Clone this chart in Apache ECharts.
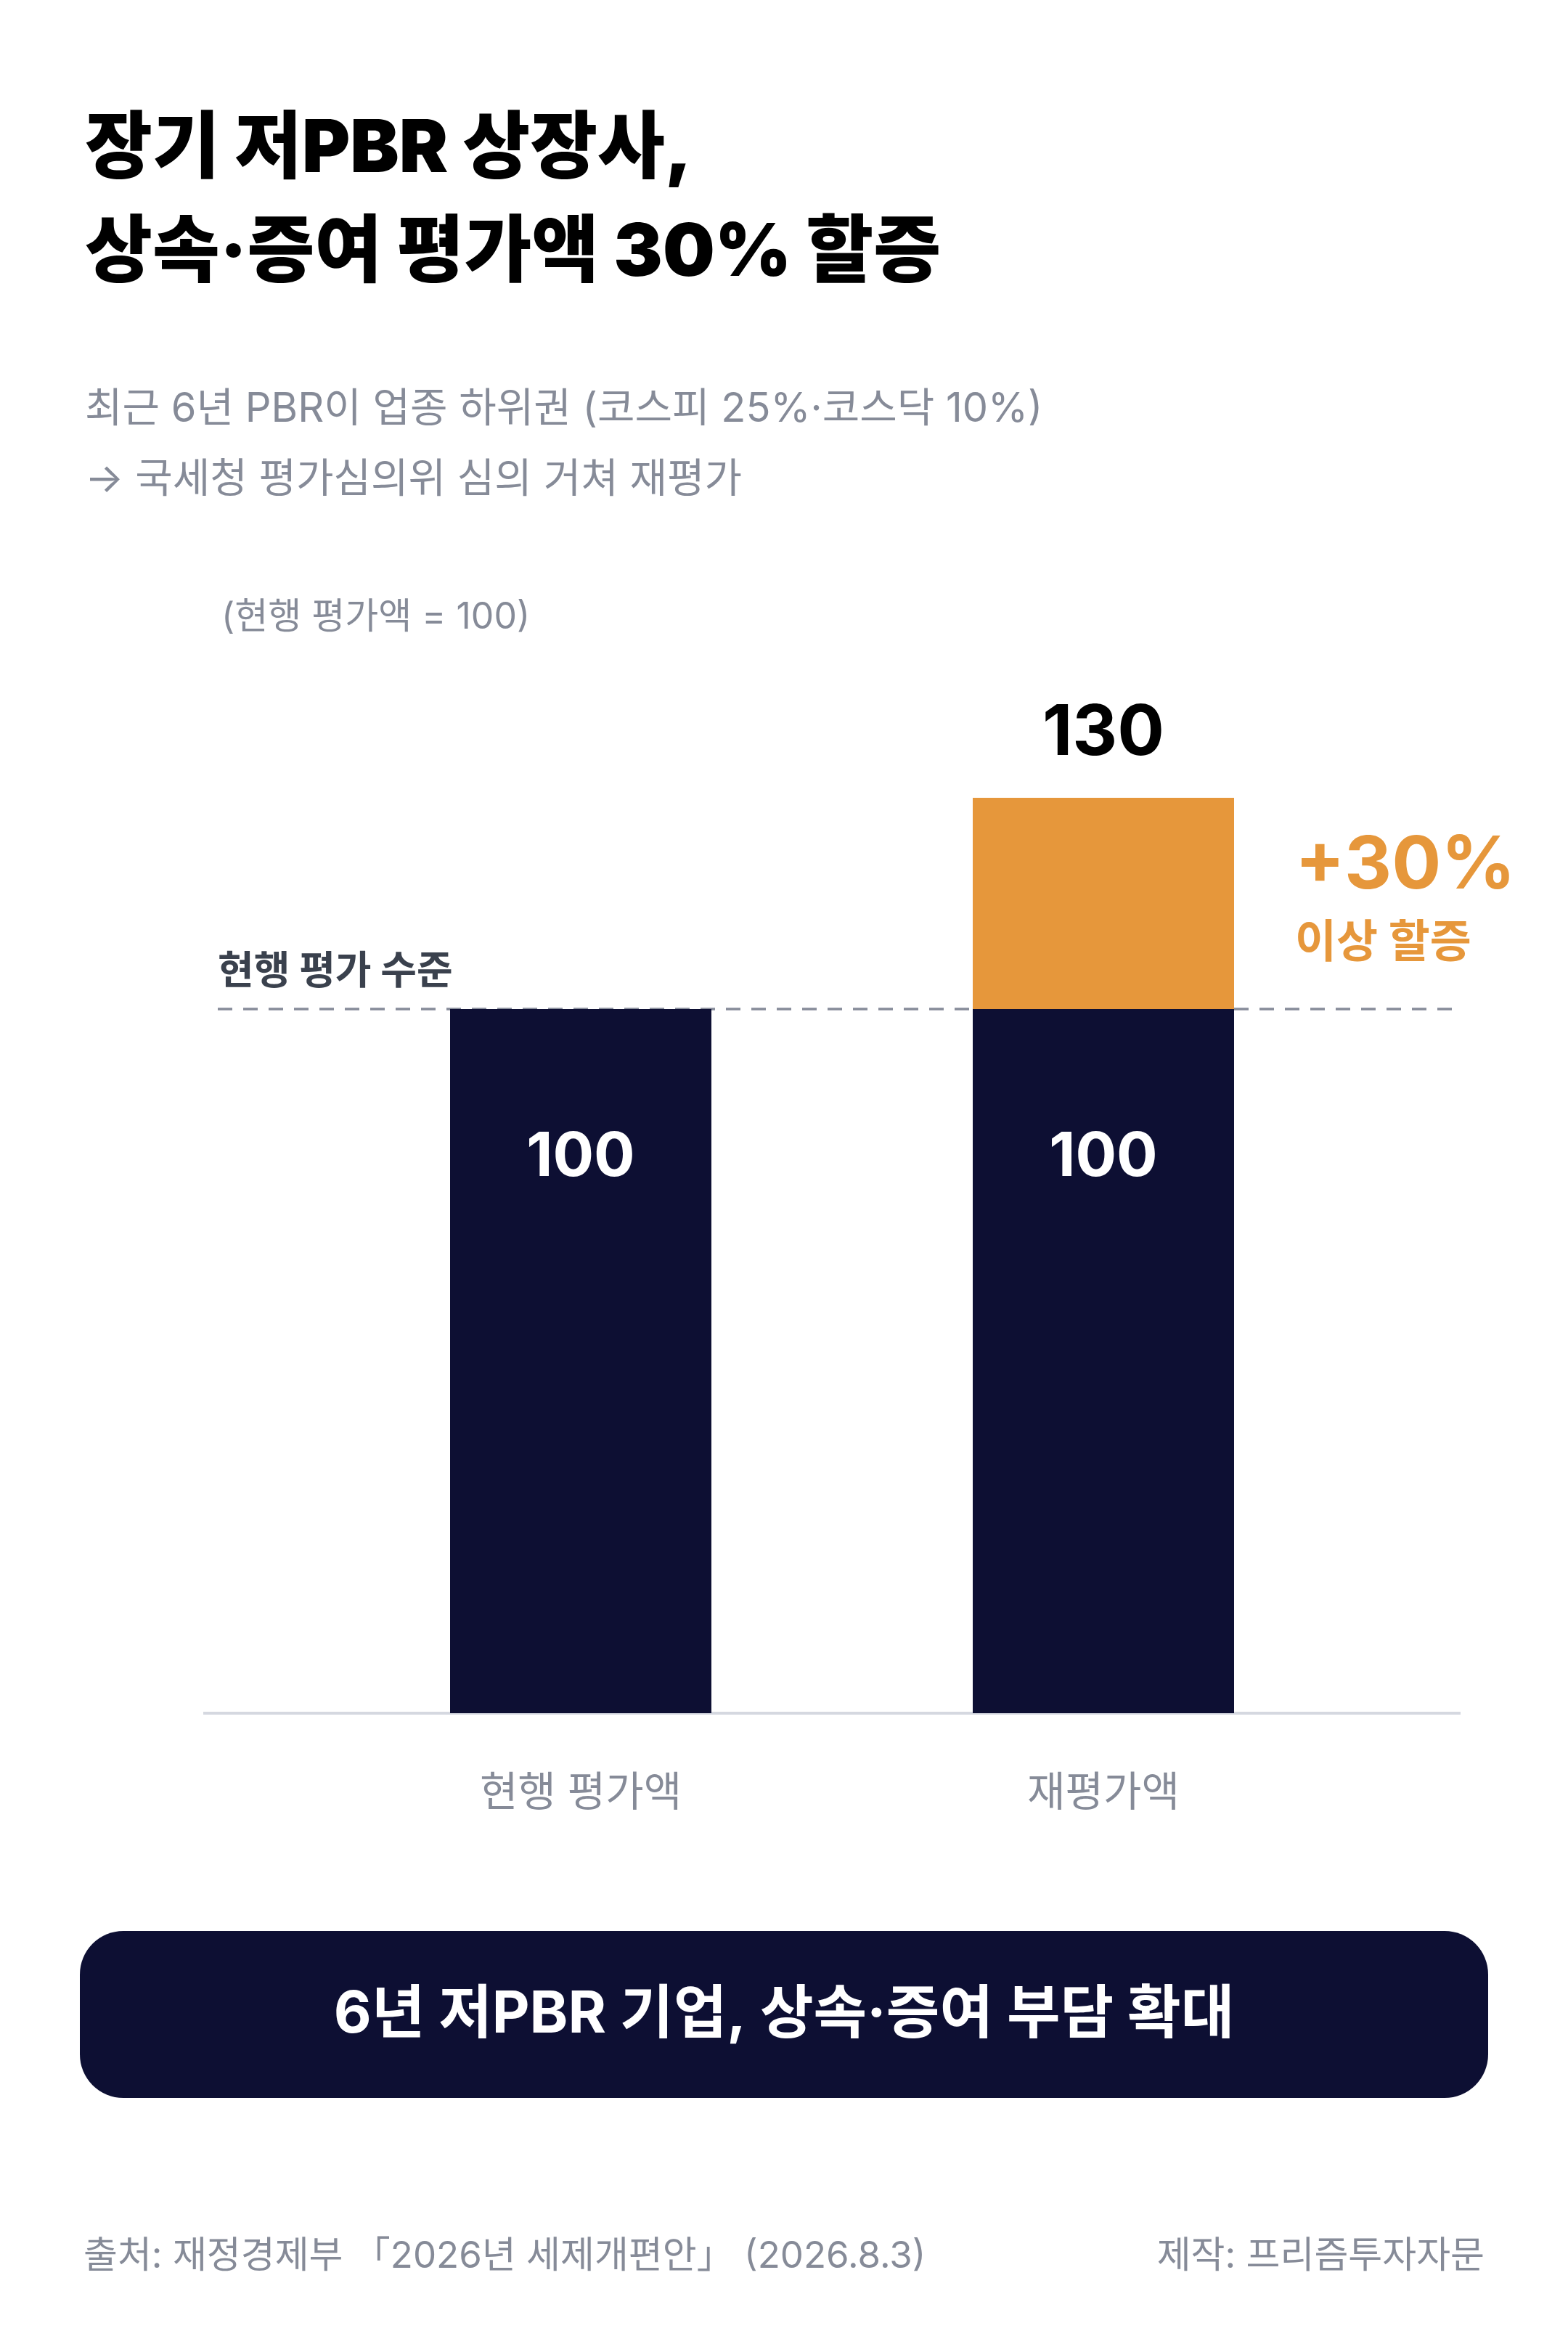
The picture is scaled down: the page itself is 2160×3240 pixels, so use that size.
<!DOCTYPE html>
<html lang="ko">
<head>
    <meta charset="UTF-8">
    <title>장기 저PBR 상장사 평가액 할증</title>
    <style>
        * {
            margin: 0;
            padding: 0;
        }

        body {
            background-color: #fff;
        }

        #chart {
            width: 2160px;
            height: 3240px;
        }
    </style>
</head>
<body>
<div id="chart"></div>
<script src="https://cdn.jsdelivr.net/npm/echarts@6/dist/echarts.min.js"></script>
<script>
    // data
    var categories = ['현행 평가액', '재평가액'];
    var baseValues = [100, 100];
    var surchargeValues = [null, 30];
    var totalValues = [null, 130];
    var surchargeTexts = ['', '+30%'];
    var surchargeNotes = ['', '이상 할증'];
    var referenceLevel = 100;

    var FONT = 'Inter, "Noto Sans CJK KR", sans-serif';
    var NAVY = '#0d0f33';
    var ORANGE = '#e6973b';
    var GRAY = '#868b98';

    var chart = echarts.init(document.getElementById('chart'));
    chart.setOption({
        backgroundColor: '#fff',
        animation: false,
        title: [
            {
                text: '장기 저PBR 상장사,\n상속·증여 평가액 30% 할증',
                left: 112,
                top: 130,
                textStyle: {fontFamily: FONT, fontSize: 101, fontWeight: 900, color: '#000', lineHeight: 143}
            },
            {
                text: '최근 6년 PBR이 업종 하위권 (코스피 25%·코스닥 10%)\n→ 국세청 평가심의위 심의 거쳐 재평가',
                left: 112,
                top: 511,
                textStyle: {fontFamily: FONT, fontSize: 56, fontWeight: 'normal', color: GRAY, lineHeight: 97}
            },
            {
                text: '(현행 평가액 = 100)',
                left: 300,
                top: 821,
                textStyle: {fontFamily: FONT, fontSize: 50, fontWeight: 'normal', color: GRAY}
            },
            {
                text: '출처: 재정경제부 「2026년 세제개편안」 (2026.8.3)',
                left: 110,
                top: 3078,
                textStyle: {fontFamily: FONT, fontSize: 51, fontWeight: 'normal', color: GRAY}
            },
            {
                text: '제작: 프리즘투자자문',
                right: 110,
                top: 3078,
                textStyle: {fontFamily: FONT, fontSize: 51, fontWeight: 'normal', color: GRAY}
            }
        ],
        grid: {
            left: 440,
            right: 280,
            top: 905,
            bottom: 880
        },
        xAxis: {
            type: 'category',
            data: categories,
            axisLine: {show: false},
            axisTick: {show: false},
            axisLabel: {
                margin: 82,
                fontFamily: FONT,
                fontSize: 57,
                color: GRAY
            }
        },
        yAxis: {
            type: 'value',
            min: 0,
            max: 150,
            show: false
        },
        series: [
            {
                name: '현행',
                type: 'bar',
                stack: 'value',
                data: baseValues,
                barWidth: 360,
                itemStyle: {color: NAVY},
                label: {
                    show: true,
                    position: ['50%', 205],
                    align: 'center',
                    verticalAlign: 'middle',
                    fontFamily: FONT,
                    fontSize: 84,
                    fontWeight: 'bold',
                    color: '#fff'
                }
            },
            {
                name: '할증',
                type: 'bar',
                stack: 'value',
                data: surchargeValues,
                barWidth: 360,
                itemStyle: {color: ORANGE},
                label: {
                    show: true,
                    position: 'right',
                    distance: 84,
                    align: 'left',
                    formatter: function (p) {
                        return '{a|' + surchargeTexts[p.dataIndex] + '}\n{b|' + surchargeNotes[p.dataIndex] + '}';
                    },
                    rich: {
                        a: {fontFamily: FONT, fontSize: 101, fontWeight: 'bold', color: ORANGE, lineHeight: 112},
                        b: {fontFamily: FONT, fontSize: 62, fontWeight: 'bold', color: ORANGE, lineHeight: 102}
                    }
                }
            },
            {
                name: '합계',
                type: 'scatter',
                data: totalValues,
                symbolSize: 0,
                silent: true,
                itemStyle: {opacity: 1},
                label: {
                    show: true,
                    position: 'top',
                    distance: 40,
                    fontFamily: FONT,
                    fontSize: 96,
                    fontWeight: 'bold',
                    color: '#000',
                    opacity: 1
                }
            }
        ]
    });

    // reference lines, placed with the y axis scale
    var y0 = chart.convertToPixel({yAxisIndex: 0}, 0);
    var yRef = chart.convertToPixel({yAxisIndex: 0}, referenceLevel);

    chart.setOption({
        graphic: [
            {
                type: 'line',
                z: 0,
                shape: {x1: 280, y1: y0, x2: 2012, y2: y0},
                style: {stroke: '#d5d8e0', lineWidth: 4}
            },
            {
                type: 'line',
                z: 0,
                shape: {x1: 300, y1: yRef, x2: 2008, y2: yRef},
                style: {stroke: '#868b99', lineWidth: 3.5, lineDash: [20, 15]}
            },
            {
                type: 'text',
                x: 300,
                y: yRef - 50,
                style: {
                    text: '현행 평가 수준',
                    fontFamily: FONT,
                    fontSize: 54,
                    fontWeight: 'bold',
                    fill: '#3a414d',
                    verticalAlign: 'middle'
                }
            },
            {
                type: 'rect',
                shape: {x: 110, y: 2660, width: 1940, height: 230, r: 60},
                style: {fill: NAVY}
            },
            {
                type: 'text',
                x: 1080,
                y: 2776,
                z: 10,
                style: {
                    text: '6년 저PBR 기업, 상속·증여 부담 확대',
                    fontFamily: FONT,
                    fontSize: 80,
                    fontWeight: 'bold',
                    fill: '#fff',
                    align: 'center',
                    verticalAlign: 'middle'
                }
            }
        ]
    });
</script>
</body>
</html>
